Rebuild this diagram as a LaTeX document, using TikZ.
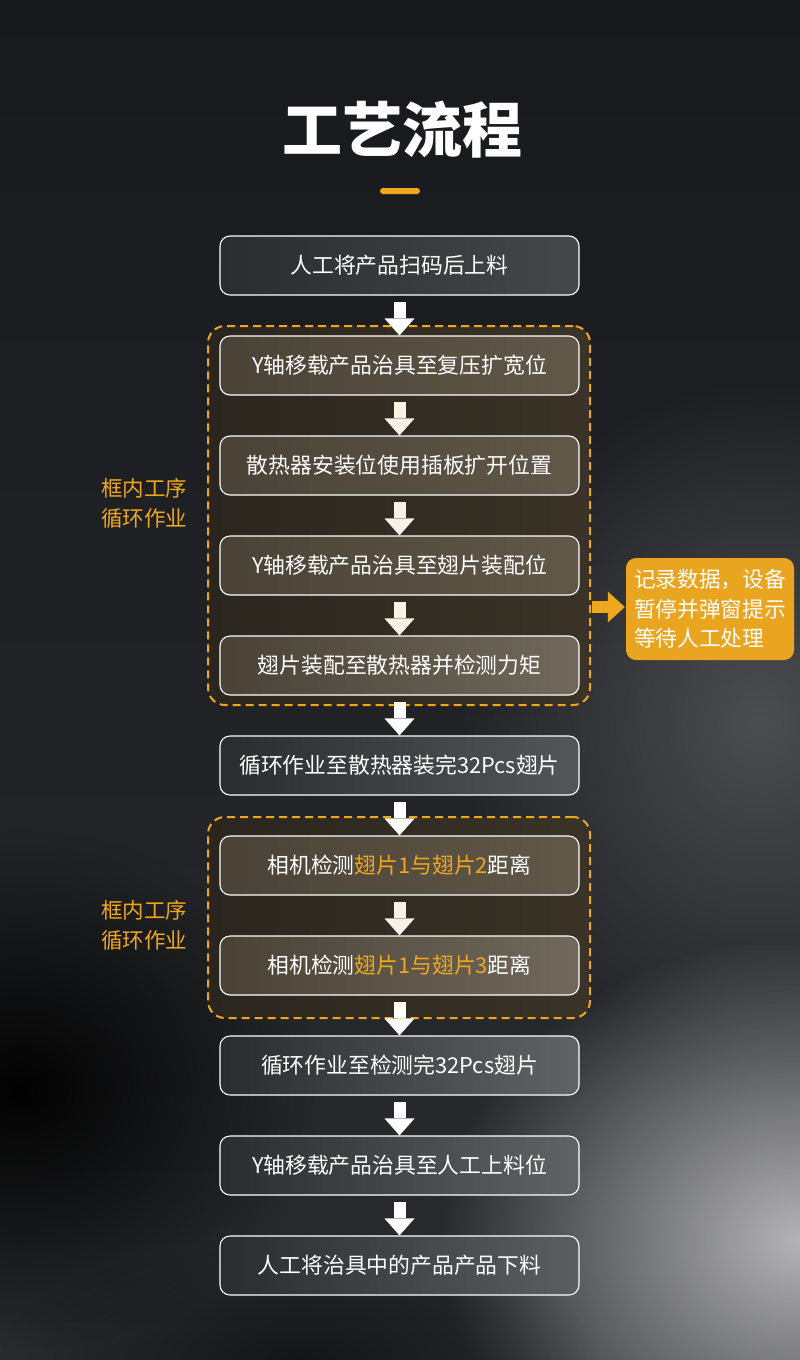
\documentclass[tikz,border=0pt]{standalone}
\usepackage{fontspec}
\setmainfont{Noto Sans CJK SC}
\usetikzlibrary{arrows.meta,fadings,calc}
\tikzfading[name=glowfade, inner color=transparent!0, outer color=transparent!100]
\definecolor{bgtop}{HTML}{18191C}
\definecolor{bgbot}{HTML}{2A2B2E}
\definecolor{accent}{HTML}{EFA71E}
\definecolor{sidefill}{HTML}{EAA520}
\definecolor{boxL}{HTML}{2B2C2F}
\definecolor{boxR}{HTML}{46474B}
\definecolor{inL}{HTML}{4A4236}
\definecolor{inR}{HTML}{615849}
\definecolor{frL}{HTML}{2A251E}
\definecolor{frR}{HTML}{3B3327}
\definecolor{cream}{HTML}{F8F2E4}
\definecolor{glowA}{HTML}{B4B4B8}
\definecolor{glowB}{HTML}{4C4D51}
\begin{document}
\begin{tikzpicture}[x=1pt,y=-1pt,
  txt/.style={font=\fontsize{21.8}{26}\selectfont},
  box/.style={txt, draw=white, line width=1.1pt, rounded corners=10pt,
    minimum width=359pt, minimum height=59pt, inner sep=0pt, text=white,
    left color=boxL, right color=boxR},
  inbox/.style={box, left color=inL, right color=inR},
  frame/.style={draw=accent, line width=2pt, dash pattern=on 8pt off 5pt,
    rounded corners=17pt, left color=frL, right color=frR, minimum width=382pt, inner sep=0pt},
  blockarr/.style={draw=white, line width=12pt,
    -{Triangle[width=30pt,length=17pt,line width=0pt]}},
  creamarr/.style={blockarr, draw=cream},
  sidearr/.style={draw=accent, line width=12pt,
    -{Triangle[width=31pt,length=17pt,line width=0pt]}},
  looplabel/.style={txt, text=accent, align=center,
    font=\fontsize{21.5}{30}\selectfont},
]
\useasboundingbox (0,0) rectangle (800,1360);
% background
\shade[top color=bgtop, bottom color=bgbot] (0,0) rectangle (800,1360);
\fill[glowB, path fading=glowfade] (760,720) ellipse (300pt and 340pt);
\fill[glowA, path fading=glowfade] (800,1240) ellipse (360pt and 300pt);
\fill[black, path fading=glowfade, fill opacity=0.95] (20,1090) ellipse (300pt and 260pt);
\fill[black, path fading=glowfade, fill opacity=0.5] (300,1360) ellipse (300pt and 120pt);

% title
\node[text=white, font=\fontsize{60}{66}\selectfont\bfseries] (title) at (402,130) {工艺流程};
\fill[accent, rounded corners=3pt] (380,188) rectangle (420,194);

% frames
\node[frame, minimum height=379pt] (f1) at (399,515.5) {};
\node[frame, minimum height=201pt] (f2) at (399,917.5) {};

% loop labels
\node[looplabel] (l1) at (144,503) {框内工序\\循环作业};
\node[looplabel] (l2) at (144,925) {框内工序\\循环作业};

% boxes
\node[box] (b1) at (399.5,265.5) {人工将产品扫码后上料};
\node[inbox] (b2) at (399.5,365.5) {Y轴移载产品治具至复压扩宽位};
\node[inbox] (b3) at (399.5,465.5) {散热器安装位使用插板扩开位置};
\node[inbox] (b4) at (399.5,565.5) {Y轴移载产品治具至翅片装配位};
\node[inbox, right color=inR!90!white] (b5) at (399.5,665.5) {翅片装配至散热器并检测力矩};
\node[box, right color=boxR!92!white] (b6) at (399.5,765.5) {循环作业至散热器装完32Pcs翅片};
\node[inbox] (b7) at (399.5,865.5) {相机检测\textcolor{accent}{翅片1与翅片2}距离};
\node[inbox, right color=inR!90!white] (b8) at (399.5,965.5) {相机检测\textcolor{accent}{翅片1与翅片3}距离};
\node[box, right color=boxR!85!white] (b9) at (399.5,1065.5) {循环作业至检测完32Pcs翅片};
\node[box, right color=boxR!85!white] (b10) at (399.5,1165.5) {Y轴移载产品治具至人工上料位};
\node[box, right color=boxR!88!white] (b11) at (399.5,1265.5) {人工将治具中的产品产品下料};

% side box
\node[txt, fill=sidefill, rounded corners=10pt, text=white, align=left,
  font=\fontsize{21.7}{29.5}\selectfont, minimum width=168pt, minimum height=102pt,
  inner sep=0pt] (side) at (710,609) {记录数据，设备\\暂停并弹窗提示\\等待人工处理};

% arrows
\draw[blockarr] ($(b1.south)+(0,6.5)$) -- (b2.north);
\draw[creamarr] ($(b2.south)+(0,6.5)$) -- (b3.north);
\draw[creamarr] ($(b3.south)+(0,6.5)$) -- (b4.north);
\draw[creamarr] ($(b4.south)+(0,6.5)$) -- (b5.north);
\draw[blockarr] ($(b5.south)+(0,6.5)$) -- (b6.north);
\draw[blockarr] ($(b6.south)+(0,6.5)$) -- (b7.north);
\draw[creamarr] ($(b7.south)+(0,6.5)$) -- (b8.north);
\draw[blockarr] ($(b8.south)+(0,6.5)$) -- (b9.north);
\draw[blockarr] ($(b9.south)+(0,6.5)$) -- (b10.north);
\draw[blockarr] ($(b10.south)+(0,6.5)$) -- (b11.north);
\draw[sidearr] ($(f1.east |- side.west)+(1,-2)$) -- ($(side.west)+(-1,-2)$);
\end{tikzpicture}
\end{document}
